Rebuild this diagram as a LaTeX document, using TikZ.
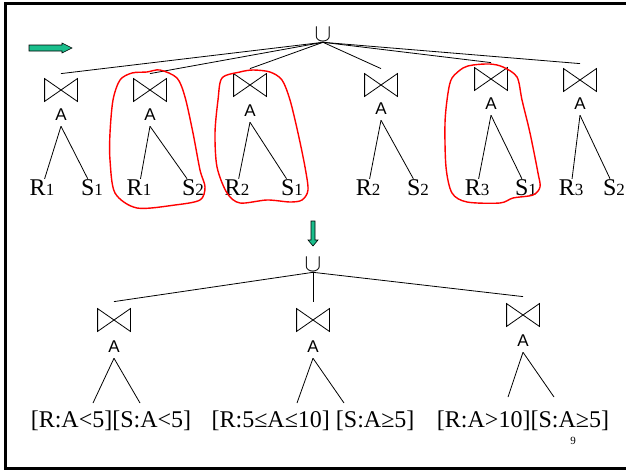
\documentclass[tikz,border=0pt]{standalone}
\usepackage{fontspec}
\setmainfont{Liberation Serif}
\setsansfont{Liberation Sans}
\usetikzlibrary{positioning}
\definecolor{arrowgreen}{RGB}{26,190,140}

\begin{document}
\begin{tikzpicture}[x=1pt,y=-1pt,line width=0.8pt,
    join node/.style={minimum width=32pt,minimum height=22pt,inner sep=0pt},
    attr node/.style={font=\sffamily\fontsize{17}{17}\selectfont,inner sep=1pt},
    rel node/.style={font=\fontsize{24}{24}\selectfont,inner sep=0pt,anchor=base},
    union node/.style={font=\fontsize{26}{26}\selectfont,inner sep=0pt},
    blob/.style={red,line width=1.4pt},
    green arrow/.style={fill=arrowgreen,draw=black,line width=0.6pt}]

\useasboundingbox (0,0) rectangle (626,471);
\draw[line width=3pt] (626,3) -- (5,3) -- (5,468) -- (626,468);

\draw[green arrow] (29,45) -- (62,45) -- (62,43) -- (72,48) -- (62,53) -- (62,51) -- (29,51) -- cycle;
\draw[green arrow] (311,221) -- (315,221) -- (315,240) -- (318,240) -- (313,246) -- (308,240) -- (311,240) -- cycle;

% upper plan: six joins under one union
\node[union node] (u1) at (323,35) {$\cup$};
\foreach \n/\x/\jy/\ay/\rx/\sx/\r/\s in {1/61/90/115/42/92/1/1, 2/150/90/115/139/193/1/2,
    3/250/85/111/237/292/2/1, 4/381/85/109/368/418/2/2, 5/491/79/104/477/526/3/1, 6/580/80/104/571/614/3/2}{
  \node[join node] (j\n) at (\x,\jy) {};
  \node[attr node] (a\n) at (\x,\ay) {A};
  \node[rel node]  (r\n) at (\rx,195) {R{\fontsize{17}{17}\selectfont\r}};
  \node[rel node]  (s\n) at (\sx,195) {S{\fontsize{17}{17}\selectfont\s}};
  \draw (j\n.north west) -- (j\n.south east) -- (j\n.north east) -- (j\n.south west) -- cycle;
  \coordinate (t\n) at ([yshift=-4pt]a\n.south);
  \coordinate (e\n) at ([yshift=5pt]j\n.north);
  \path (t\n) edge (r\n) edge (s\n);
  \path (u1.south) edge (e\n);
}

\draw[blob] plot[smooth cycle] coordinates {(160,70) (177,78) (185,97) (193,133) (200,170) (205,187)
    (200,200) (175,205) (137,208) (115,193) (110,160) (110,133) (113,100) (120,80) (132,73) (147,72)};
\draw[blob] plot[smooth cycle] coordinates {(253,70) (270,72) (282,80) (290,100) (298,133) (305,167)
    (308,190) (302,200) (290,202) (267,200) (240,203) (227,193) (217,167) (215,133) (218,100) (222,78) (240,72)};
\draw[blob] plot[smooth cycle] coordinates {(490,64) (503,67) (517,77) (522,100) (530,133) (538,173)
    (540,187) (533,195) (513,198) (500,203) (467,202) (452,193) (446,167) (445,123) (448,93) (452,78) (463,68) (473,65)};

% lower plan: ranges of A
\node[union node] (u2) at (313,265) {$\cup$};
\foreach \n/\x/\jy/\ay in {1/114/320/347, 2/313/320/347, 3/523/315/341}{
  \node[join node] (k\n) at (\x,\jy) {};
  \node[attr node] (b\n) at (\x,\ay) {A};
  \draw (k\n.north west) -- (k\n.south east) -- (k\n.north east) -- (k\n.south west) -- cycle;
  \coordinate (p\n) at ([yshift=-4pt]b\n.south);
  \coordinate (f\n) at ([yshift=7pt]k\n.north);
  \path (u2.south) edge (f\n);
}
\node[rel node] (l1) at (111,427) {[R:A<5][S:A<5]};
\node[rel node] (l2) at (313,427) {[R:5≤A≤10] [S:A≥5]};
\node[rel node] (l3) at (523,427) {[R:A>10][S:A≥5]};
\coordinate (l1a) at (93,403);  \coordinate (l1b) at (140,403);
\coordinate (l2a) at (297,403); \coordinate (l2b) at (344,403);
\coordinate (l3a) at (508,397); \coordinate (l3b) at (554,397);
\path (p1) edge (l1a) edge (l1b);
\path (p2) edge (l2a) edge (l2b);
\path (p3) edge (l3a) edge (l3b);

\node[font=\fontsize{11}{11}\selectfont] (pg) at (573,441) {9};
\end{tikzpicture}
\end{document}
